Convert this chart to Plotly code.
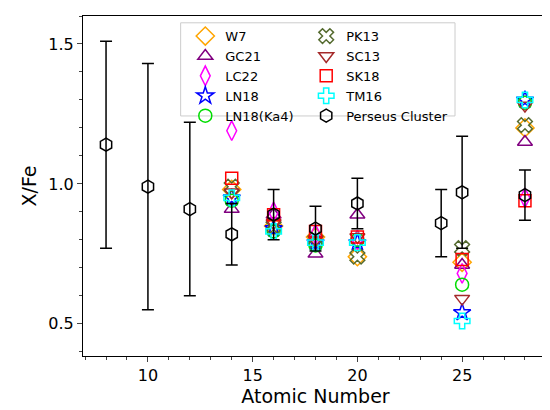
import plotly.graph_objects as go

z_mod = [14, 16, 18, 20, 25, 28]
w7 = [0.98, 0.85, 0.81, 0.74, 0.72, 1.20]
gc21 = [0.91, 0.89, 0.75, 0.89, 0.71, 1.15]
lc22 = [1.19, 0.90, 0.82, 0.80, 0.68, 0.95]
ln18 = [0.95, 0.84, 0.79, 0.79, 0.54, 1.30]
ln18_ka4 = [0.94, 0.83, 0.78, 0.80, 0.64, 1.29]
pk13 = [0.99, 0.85, 0.80, 0.74, 0.77, 1.21]
sc13 = [0.97, 0.86, 0.80, 0.81, 0.59, 1.28]
sk18 = [1.02, 0.89, 0.83, 0.81, 0.73, 0.94]
tm16 = [0.95, 0.83, 0.79, 0.79, 0.51, 1.30]

z_obs = [8, 10, 12, 14, 16, 18, 20, 24, 25, 28]
perseus = [1.14, 0.99, 0.91, 0.82, 0.89, 0.84, 0.93, 0.86, 0.97, 0.96]
perseus_err_hi = [0.37, 0.44, 0.31, 0.11, 0.09, 0.08, 0.09, 0.12, 0.20, 0.09]
perseus_err_lo = [0.37, 0.44, 0.31, 0.11, 0.09, 0.08, 0.09, 0.12, 0.20, 0.09]

models = [
    ("W7", w7, "diamond-open", "#FFA500", 14, "legend"),
    ("GC21", gc21, "triangle-up-open", "#800080", 13, "legend"),
    ("LC22", lc22, "diamond-tall-open", "#FF00FF", 14, "legend"),
    ("LN18", ln18, "star-open", "#0000FF", 13, "legend"),
    ("LN18(Ka4)", ln18_ka4, "circle-open", "#00DD00", 13, "legend"),
    ("PK13", pk13, "x-open", "#556B2F", 13, "legend2"),
    ("SC13", sc13, "triangle-down-open", "#A52A2A", 13, "legend2"),
    ("SK18", sk18, "square-open", "#FF0000", 12, "legend2"),
    ("TM16", tm16, "cross-open", "#00FFFF", 13, "legend2"),
]

fig = go.Figure()
for name, vals, sym, col, sz, leg in models:
    fig.add_trace(go.Scatter(x=z_mod, y=vals, mode="markers", name=name, legend=leg,
                             marker=dict(symbol=sym, size=sz, color=col, line=dict(width=1.5, color=col))))

fig.add_trace(go.Scatter(x=z_obs, y=perseus, mode="markers", name="Perseus Cluster", legend="legend2",
                         marker=dict(symbol="hexagon-open", size=13, color="black", line=dict(width=1.5)),
                         error_y=dict(type="data", array=perseus_err_hi, arrayminus=perseus_err_lo,
                                      color="black", thickness=1.5, width=6)))

fig.add_shape(type="rect", xref="paper", yref="paper", x0=0.21, x1=0.80, y0=0.706, y1=0.98,
              line=dict(color="#cccccc", width=1), fillcolor="rgba(255,255,255,0.9)", layer="above")

legstyle = dict(bgcolor="rgba(0,0,0,0)", font=dict(size=13, family="DejaVu Sans", color="black"),
                tracegroupgap=0, itemwidth=30, yanchor="top", y=0.985)
fig.update_layout(
    width=550, height=410,
    margin=dict(l=75, r=10, t=8, b=62),
    plot_bgcolor="white", paper_bgcolor="white",
    font=dict(family="DejaVu Sans", size=16, color="black"),
    showlegend=True,
    legend=dict(x=0.22, xanchor="left", **legstyle),
    legend2=dict(x=0.48, xanchor="left", **legstyle),
    xaxis=dict(title=dict(text="Atomic Number", standoff=4), range=[6.9, 29.1], tickvals=[10, 15, 20, 25],
               showline=True, mirror=True, linecolor="black", ticks="outside", showgrid=False, zeroline=False,
               minor=dict(ticks="outside", dtick=1, ticklen=3)),
    yaxis=dict(title=dict(text="X/Fe", standoff=6), range=[0.385, 1.6], tickvals=[0.5, 1.0, 1.5],
               tickformat=".1f", showline=True, mirror=True, linecolor="black", ticks="outside",
               showgrid=False, zeroline=False, minor=dict(ticks="outside", dtick=0.1, ticklen=3)),
)
fig.write_html("out.html")
